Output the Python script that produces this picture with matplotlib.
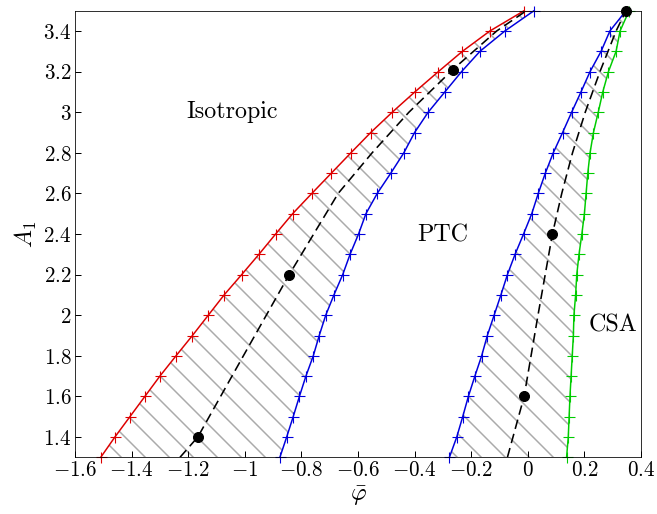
import numpy as np
import matplotlib
matplotlib.use("Agg")
import matplotlib.pyplot as plt
from matplotlib.ticker import FuncFormatter

plt.rcParams["font.family"] = "serif"
plt.rcParams["font.serif"] = ["cmr10"]
plt.rcParams["mathtext.fontset"] = "cm"
plt.rcParams["axes.formatter.use_mathtext"] = True
plt.rcParams["hatch.linewidth"] = 1.5

# A_1 grid shared by all boundary curves
A1 = [1.3, 1.4, 1.5, 1.6, 1.7, 1.8, 1.9, 2.0, 2.1, 2.2, 2.3, 2.4,
      2.5, 2.6, 2.7, 2.8, 2.9, 3.0, 3.1, 3.2, 3.3, 3.4, 3.5]

# isotropic / coexistence boundary (red)
phi_red = [-1.509, -1.459, -1.406, -1.353, -1.300, -1.243, -1.185, -1.129,
           -1.073, -1.011, -0.950, -0.891, -0.831, -0.763, -0.694, -0.625,
           -0.555, -0.479, -0.399, -0.316, -0.231, -0.134, -0.013]
# coexistence / PTC boundary (blue, left)
phi_blue_l = [-0.876, -0.852, -0.829, -0.807, -0.784, -0.758, -0.737, -0.714,
              -0.685, -0.654, -0.628, -0.598, -0.572, -0.532, -0.484, -0.438,
              -0.400, -0.352, -0.293, -0.234, -0.169, -0.081, 0.022]
# PTC / coexistence boundary (blue, right)
phi_blue_r = [-0.277, -0.251, -0.230, -0.210, -0.187, -0.163, -0.143, -0.119,
              -0.095, -0.072, -0.045, -0.015, 0.014, 0.037, 0.062, 0.090,
              0.123, 0.155, 0.188, 0.220, 0.259, 0.290, 0.347]
# coexistence / CSA boundary (green)
phi_green = [0.137, 0.143, 0.146, 0.149, 0.153, 0.157, 0.161, 0.163,
             0.169, 0.173, 0.181, 0.191, 0.200, 0.206, 0.212, 0.220,
             0.232, 0.249, 0.265, 0.285, 0.312, 0.326, 0.358]

# dashed transition lines
dash_l_A1 = [1.3, 1.4, 1.8, 2.2, 2.6, 2.8, 3.0, 3.21, 3.4, 3.5]
dash_l_phi = [-1.229, -1.166, -1.005, -0.843, -0.67, -0.55, -0.42, -0.265, -0.11, -0.005]
dash_r_A1 = [1.3, 1.6, 2.0, 2.4, 2.6, 2.8, 3.0, 3.2, 3.4, 3.5]
dash_r_phi = [-0.072, -0.013, 0.036, 0.087, 0.12, 0.158, 0.203, 0.255, 0.312, 0.347]

# black points
dot_phi = [-1.166, -0.843, -0.265, -0.013, 0.087, 0.347]
dot_A1 = [1.4, 2.2, 3.21, 1.6, 2.4, 3.5]

DPI = 72
fig = plt.figure(figsize=(657 / DPI, 514 / DPI), dpi=DPI)
ax = fig.add_axes([75 / 657, 1 - 457.3 / 514, 566 / 657, 446.6 / 514])

ax.fill_betweenx(A1, phi_red, phi_blue_l, facecolor="none",
                 edgecolor="#aaaaaa", hatch="\\", linewidth=0)
ax.fill_betweenx(A1, phi_blue_r, phi_green, facecolor="none",
                 edgecolor="#aaaaaa", hatch="\\", linewidth=0)

mk = dict(marker="+", markersize=11, markeredgewidth=1.1, lw=1.5, clip_on=False)
ax.plot(phi_red, A1, color="#dd0000", **mk)
ax.plot(phi_blue_l, A1, color="#0000dd", **mk)
ax.plot(phi_blue_r, A1, color="#0000dd", **mk)
ax.plot(phi_green, A1, color="#00cc00", **mk)

ax.plot(dash_l_phi, dash_l_A1, color="black", lw=1.6, dashes=(6, 3.2))
ax.plot(dash_r_phi, dash_r_A1, color="black", lw=1.6, dashes=(6, 3.2))
ax.plot(dot_phi, dot_A1, "o", color="black", markersize=10, clip_on=False, zorder=5)

ax.text(-1.045, 3.0, "Isotropic", fontsize=24, ha="center", va="center")
ax.text(-0.30, 2.395, "PTC", fontsize=24, ha="center", va="center")
ax.text(0.301, 1.95, "CSA", fontsize=24, ha="center", va="center")

ax.set_xlim(-1.6, 0.4)
ax.set_ylim(1.3, 3.5)
ax.set_xticks([-1.6, -1.4, -1.2, -1.0, -0.8, -0.6, -0.4, -0.2, 0.0, 0.2, 0.4])
ax.set_yticks([1.4, 1.6, 1.8, 2.0, 2.2, 2.4, 2.6, 2.8, 3.0, 3.2, 3.4])
fmt = FuncFormatter(lambda v, p: f"${round(v, 2) + 0.0:g}$")
ax.xaxis.set_major_formatter(fmt)
ax.yaxis.set_major_formatter(fmt)
ax.tick_params(direction="in", length=6, width=1, labelsize=21,
               top=False, right=False)
ax.set_xlabel(r"$\bar{\varphi}$", fontsize=24, labelpad=4)
ax.set_ylabel(r"$A_1$", fontsize=24, labelpad=4)

fig.savefig("out.png", dpi=DPI)
